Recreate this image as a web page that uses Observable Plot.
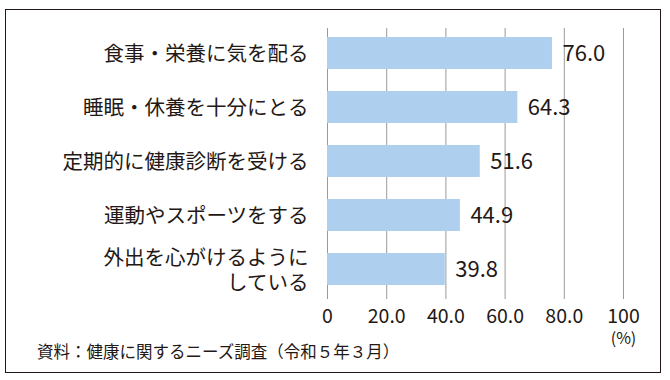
<!DOCTYPE html>
<html>
<head>
<meta charset="utf-8">
<script src="https://cdn.jsdelivr.net/npm/d3@7"></script>
<script src="https://cdn.jsdelivr.net/npm/@observablehq/plot@0.6"></script>
<style>
  html, body { margin: 0; padding: 0; background: #fff; }
  body { width: 670px; height: 380px; position: relative; overflow: hidden; font-family: "Noto Sans CJK JP", "Noto Sans", sans-serif; color: #231815; }
  #frame { position: absolute; left: 5px; top: 9px; width: 656px; height: 364px; box-sizing: border-box; border: 1.4px solid #231815; pointer-events: none; }
  #chart { position: absolute; left: 0; top: 0; }
  #caption { position: absolute; left: 37px; top: 342px; font-size: 16.5px; line-height: 18px; color: #231815; white-space: nowrap; }
</style>
</head>
<body>
<div id="chart"></div>
<div id="caption">資料：健康に関するニーズ調査（令和５年３月）</div>
<div id="frame"></div>
<script>
const categories = [
  "食事・栄養に気を配る",
  "睡眠・休養を十分にとる",
  "定期的に健康診断を受ける",
  "運動やスポーツをする",
  "外出を心がけるように\nしている"
];
const values = [76.0, 64.3, 51.6, 44.9, 39.8];
const xTicks = [0, 20, 40, 60, 80, 100];
const xTickLabels = ["0", "20.0", "40.0", "60.0", "80.0", "100"];
const unitLabel = ["(%)"];

const data = categories.map((c, i) => ({category: c, value: values[i]}));

const plot = Plot.plot({
  width: 670,
  height: 354,
  marginLeft: 327,
  marginRight: 47,
  marginTop: 28,
  marginBottom: 55,
  style: {fontFamily: "'Noto Sans CJK JP', 'Noto Sans', sans-serif", color: "#231815", background: "transparent"},
  x: {domain: [0, 100]},
  y: {domain: categories, range: [14.4, 308.7], padding: 0.4},
  marks: [
    Plot.gridX(xTicks, {stroke: "#9a9a9a", strokeOpacity: 1, strokeWidth: 1}),
    Plot.barX(data, {x: "value", y: "category", fill: "#aecfee"}),
    Plot.text(data, {x: "value", y: "category", text: d => d.value.toFixed(1), dx: 10, textAnchor: "start", fontSize: 22, fill: "#231815"}),
    Plot.axisX({ticks: xTicks, tickFormat: d => xTickLabels[xTicks.indexOf(d)], tickSize: 0, tickPadding: 10, fontSize: 19.5, label: null, fill: "#231815"}),
    Plot.axisY({tickSize: 0, tickPadding: 19, fontSize: 20.5, lineHeight: 1.2, label: null, fill: "#231815"}),
    Plot.text(unitLabel, {x: [100], text: d => d, frameAnchor: "bottom", lineAnchor: "middle", dy: 39, fontSize: 16, fill: "#231815"})
  ]
});
document.getElementById("chart").appendChild(plot);
</script>
</body>
</html>
